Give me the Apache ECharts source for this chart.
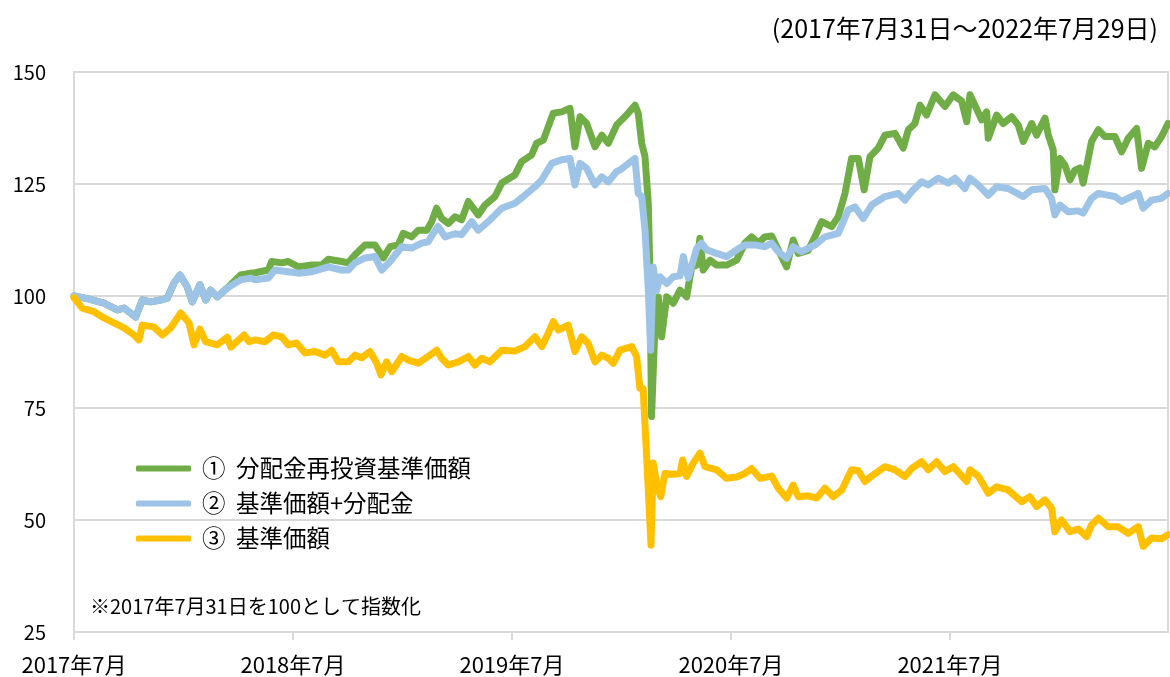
<!DOCTYPE html>
<html><head><meta charset="utf-8">
<script src="https://cdn.jsdelivr.net/npm/echarts@6/dist/echarts.min.js"></script>
<style>html,body{margin:0;padding:0;background:#fff}#c{width:1170px;height:677px}</style>
</head><body><div id="c"></div>
<script>
// x = months since 2017-07-31
const seriesNames = ['①  分配金再投資基準価額', '②  基準価額+分配金', '③  基準価額'];
const periodText = '(2017年7月31日～2022年7月29日)';
const noteText = '※2017年7月31日を100として指数化';
const yTicks = [25, 50, 75, 100, 125, 150];
const xTickYears = [2017, 2018, 2019, 2020, 2021];

const reinvested = [[0,100],[0.73,99.4],[1.64,98.4],[2.37,96.9],[2.74,97.3],[3.38,95.3],[3.74,99.1],[4.20,98.7],[4.75,99.1],[5.11,99.5],[5.48,102.9],[5.81,104.7],[6.21,102],[6.48,98.7],[6.90,102.5],[7.22,99.1],[7.49,101.3],[7.85,99.8],[8.40,101.8],[9.13,104.7],[9.68,105.1],[9.92,105.2],[10.65,105.8],[10.83,107.7],[11.38,107.4],[11.74,107.7],[12.29,106.5],[13.02,106.9],[13.57,106.9],[13.93,108.2],[14.67,107.7],[15.03,107.4],[15.40,109.2],[15.95,111.4],[16.49,111.4],[16.95,108.5],[17.32,111],[17.77,111.4],[18.04,114],[18.50,113.2],[18.87,114.7],[19.33,114.7],[19.60,116.6],[19.87,119.6],[20.15,117.3],[20.51,116.2],[20.88,117.7],[21.24,117],[21.61,121.1],[22.15,118.1],[22.52,120.3],[23.07,122.2],[23.44,125.2],[24.16,127],[24.53,130],[25.08,131.5],[25.35,134.1],[25.72,134.8],[25.99,137.8],[26.26,140.8],[26.72,141.1],[27.18,141.9],[27.45,133.3],[27.73,140],[28.09,138.5],[28.55,133.3],[28.92,135.9],[29.28,134.1],[29.74,138.2],[30.28,140.4],[30.74,142.6],[30.92,140.8],[31.11,134.1],[31.29,131.1],[31.47,120.7],[31.56,105.1],[31.65,73.1],[31.84,93.9],[32.02,99.8],[32.20,90.9],[32.48,99.8],[32.84,98.4],[33.21,101.3],[33.57,99.8],[33.85,106.5],[34.12,106.9],[34.30,112.9],[34.48,105.8],[34.85,108],[35.22,106.9],[35.76,106.9],[36.31,108],[36.77,111.8],[37.13,113.2],[37.50,111.8],[37.86,113.2],[38.23,113.4],[38.59,110.3],[39.05,106.5],[39.41,112.5],[39.69,109.5],[40.24,110.2],[40.60,113.2],[40.97,116.6],[41.52,115.5],[41.88,117.7],[42.25,122.9],[42.61,130.7],[42.98,130.7],[43.30,123.7],[43.62,131.1],[44.07,133],[44.44,135.9],[44.99,136.3],[45.44,133],[45.72,137.1],[46.08,138.5],[46.36,142.6],[46.72,140.4],[47.18,144.9],[47.73,142.3],[48.18,144.9],[48.64,143.5],[48.92,138.9],[49.10,144.9],[49.37,142.6],[49.74,139.3],[50.01,141.1],[50.10,135.2],[50.56,140.4],[50.92,138.5],[51.38,140],[51.74,138.2],[52.02,134.5],[52.48,138.5],[52.75,135.9],[53.21,139.7],[53.39,135.9],[53.66,132.6],[53.75,123.7],[54.03,130.7],[54.30,129.2],[54.58,125.9],[54.85,128.1],[55.12,128.6],[55.30,125.2],[55.58,130.7],[55.76,134.5],[56.13,137.1],[56.49,135.6],[57.04,135.6],[57.41,132.2],[57.77,135.2],[58.23,137.4],[58.50,128.5],[58.87,134.1],[59.23,133.3],[59.60,135.6],[59.95,138.5]];

const withDividend = [[0,100],[0.73,99.4],[1.64,98.4],[2.37,96.9],[2.74,97.3],[3.38,95.3],[3.74,99.1],[4.20,98.7],[4.75,99.1],[5.11,99.5],[5.48,102.9],[5.81,104.7],[6.21,102],[6.48,98.7],[6.90,102.5],[7.22,99.1],[7.49,101.3],[7.85,99.8],[8.40,101.8],[9.13,103.6],[9.68,104],[9.92,103.6],[10.65,104],[11.01,105.8],[11.74,105.4],[12.29,105.1],[13.02,105.4],[13.93,106.5],[14.67,105.8],[15.03,105.8],[15.40,107.4],[15.95,108.5],[16.49,108.8],[16.86,105.8],[17.32,107.7],[17.96,111],[18.50,110.7],[19.05,111.8],[19.41,112.1],[19.69,114],[19.95,115.5],[20.33,113.2],[20.88,113.9],[21.24,113.7],[21.79,116.6],[22.15,114.7],[22.70,116.6],[23.44,119.6],[24.16,120.7],[24.71,122.5],[25.26,124.4],[25.63,125.9],[26.18,129.6],[26.72,130.4],[27.18,130.7],[27.45,124.8],[27.73,129.6],[28.09,128.5],[28.55,124.8],[28.92,126.6],[29.28,125.5],[29.74,127.8],[29.92,128.1],[30.74,130.7],[30.92,122.9],[31.11,122.2],[31.29,114.7],[31.47,101.3],[31.60,87.9],[31.74,106.5],[31.93,101.3],[32.11,104.3],[32.48,102.8],[32.84,104.3],[33.21,104.5],[33.39,108.8],[33.66,104],[34.12,110.6],[34.39,111.8],[34.67,110.3],[35.22,109.5],[35.76,108.8],[36.31,110.3],[36.77,111.4],[37.32,111.4],[37.86,111],[38.23,111.8],[38.59,109.9],[39.05,108.4],[39.41,111],[39.87,109.9],[40.60,111.4],[41.15,113.2],[41.88,114],[42.43,119.2],[42.79,119.9],[43.25,117.3],[43.71,120.3],[44.44,122.2],[45.17,122.9],[45.53,121.4],[45.90,123.3],[46.45,125.5],[46.81,124.8],[47.36,126.3],[47.91,125.2],[48.27,126.3],[48.82,124],[49.10,126.3],[49.55,124.8],[50.10,122.5],[50.56,124.4],[51.19,124],[52.02,122.2],[52.48,123.7],[53.21,124],[53.57,121.8],[53.75,118.1],[54.03,120.3],[54.48,118.8],[55.03,119],[55.30,118.5],[55.76,121.8],[56.13,122.9],[57.04,122.2],[57.41,121.1],[58.32,122.9],[58.59,119.6],[59.05,121.4],[59.60,121.8],[59.95,122.9]];

const navOnly = [[0,99.6],[0.45,97.3],[1.10,96.5],[1.64,95.1],[2.19,94],[2.74,92.9],[3.29,91.3],[3.56,90.2],[3.74,93.5],[4.38,93.1],[4.84,91.3],[5.30,92.9],[5.85,96.2],[6.30,94],[6.58,89.1],[6.90,92.6],[7.22,89.8],[7.85,89.1],[8.40,90.8],[8.59,88.6],[9.32,91.3],[9.59,89.8],[9.92,90.2],[10.47,89.8],[10.92,91.3],[11.38,90.9],[11.74,89.1],[12.20,89.5],[12.66,87.3],[13.21,87.6],[13.75,86.8],[14.12,87.9],[14.48,85.3],[15.03,85.3],[15.40,86.8],[15.76,86.2],[16.22,87.6],[16.59,85],[16.82,82.4],[17.13,85.3],[17.41,83.1],[17.96,86.5],[18.32,85.7],[18.87,85],[19.41,86.5],[19.87,87.9],[20.15,86.1],[20.51,84.6],[21.06,85.3],[21.61,86.5],[21.97,84.6],[22.34,86.1],[22.79,85.3],[23.44,87.9],[24.16,87.7],[24.71,88.7],[25.26,90.9],[25.63,88.7],[25.99,91.7],[26.26,94.3],[26.54,92.4],[27.08,93.5],[27.45,87.6],[27.82,90.9],[28.18,89.4],[28.55,85.3],[28.92,86.8],[29.28,86.1],[29.55,85],[29.92,87.9],[30.56,88.7],[30.83,86.5],[31.01,79.4],[31.19,79.3],[31.38,64.1],[31.62,44.4],[31.74,62.7],[31.96,57.4],[32.15,55.2],[32.38,60.4],[32.84,60.2],[33.21,60.4],[33.35,63.4],[33.57,59.7],[33.93,62.7],[34.30,64.9],[34.58,61.9],[35.22,61.2],[35.76,59.3],[36.31,59.6],[36.77,60.4],[37.13,61.5],[37.59,59.3],[38.23,59.8],[38.59,57.1],[39.05,54.9],[39.41,57.8],[39.69,55.2],[40.24,55.4],[40.70,54.9],[41.15,57.1],[41.61,55.2],[42.07,56.7],[42.61,61.2],[42.98,61],[43.34,58.6],[43.71,59.8],[44.44,61.9],[44.99,61.2],[45.53,59.7],[45.90,61.5],[46.45,63],[46.81,61.2],[47.27,63],[47.73,60.8],[48.18,61.9],[48.92,58.6],[49.10,61.2],[49.55,59.8],[50.10,56],[50.56,57.4],[51.19,56.7],[51.93,54.1],[52.38,55.2],[52.75,53],[53.21,54.5],[53.57,52.6],[53.75,47.4],[54.12,50],[54.58,47.4],[55.03,48],[55.49,46.3],[55.76,48.9],[56.13,50.4],[56.67,48.5],[57.22,48.5],[57.77,47],[58.32,48.5],[58.59,44.1],[59.05,46],[59.60,45.8],[59.95,46.7]];

const colors = ['#70AD47', '#9DC3E6', '#FFC000'];
const FONT = '"Noto Sans CJK JP", "Noto Sans", sans-serif';

const chart = echarts.init(document.getElementById('c'));
const dataSets = [reinvested, withDividend, navOnly];
chart.setOption({
  animation: false,
  textStyle: { fontFamily: FONT, color: '#000' },
  title: [
    { text: periodText, right: 7, top: 11, textStyle: { fontSize: 25, fontWeight: 'normal', color: '#000', fontFamily: FONT } },
    { text: noteText, left: 85, top: 591, textStyle: { fontSize: 20, fontWeight: 'normal', color: '#000', fontFamily: FONT } }
  ],
  legend: {
    orient: 'vertical', left: 131, top: 448,
    itemWidth: 55, itemHeight: 6, itemGap: 4,
    icon: 'roundRect',
    data: seriesNames,
    textStyle: { fontSize: 23.5, color: '#000', fontFamily: FONT, lineHeight: 31, padding: [0, 0, 0, 6] }
  },
  grid: { left: 74, right: 2, top: 72, bottom: 45, show: true, borderColor: '#D9D9D9', borderWidth: 2 },
  xAxis: {
    type: 'value', min: 0, max: 59.95, interval: 12,
    axisLine: { show: true, lineStyle: { color: '#D9D9D9', width: 2 } },
    axisTick: { show: true, length: 8, lineStyle: { color: '#D9D9D9', width: 2 } },
    splitLine: { show: false },
    axisLabel: {
      fontSize: 22, color: '#000', margin: 22, showMaxLabel: false,
      formatter: v => { const i = Math.round(v / 12); return (Math.abs(v - i * 12) < 1e-6 && i < xTickYears.length) ? xTickYears[i] + '年7月' : ''; }
    }
  },
  yAxis: {
    type: 'value', min: yTicks[0], max: yTicks[yTicks.length - 1], interval: 25,
    axisLine: { show: true, lineStyle: { color: '#D9D9D9', width: 2 } },
    axisTick: { show: false },
    splitLine: { show: true, lineStyle: { color: '#D9D9D9', width: 2 } },
    axisLabel: { fontSize: 20, color: '#000', margin: 28 }
  },
  series: seriesNames.map((n, i) => ({
    name: n, type: 'line', data: dataSets[i], showSymbol: false, symbol: 'none',
    lineStyle: { width: 7, color: colors[i], join: 'round', cap: 'round' },
    itemStyle: { color: colors[i] }, z: 2 + i
  }))
});
</script></body></html>
